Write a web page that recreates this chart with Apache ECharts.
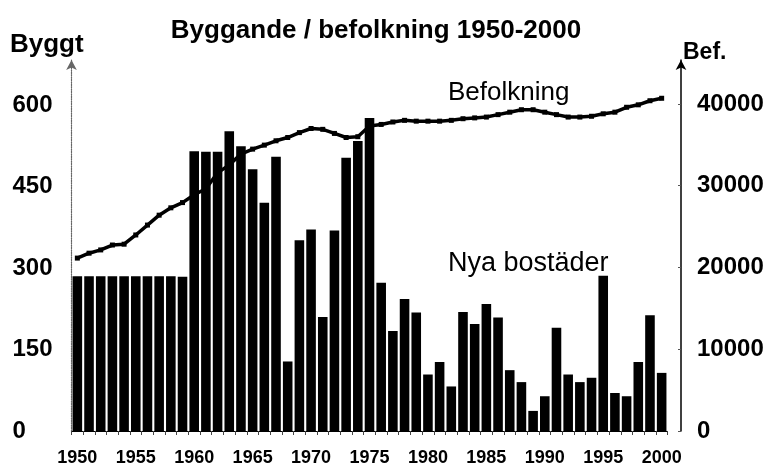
<!DOCTYPE html>
<html>
<head>
<meta charset="utf-8">
<script src="https://cdn.jsdelivr.net/npm/echarts@6/dist/echarts.min.js"></script>
<style>html,body{margin:0;padding:0;background:#fff}#c{width:771px;height:472px}</style>
</head>
<body>
<div id="c"></div>
<script>
var years = ['1950','1951','1952','1953','1954','1955','1956','1957','1958','1959',
             '1960','1961','1962','1963','1964','1965','1966','1967','1968','1969',
             '1970','1971','1972','1973','1974','1975','1976','1977','1978','1979',
             '1980','1981','1982','1983','1984','1985','1986','1987','1988','1989',
             '1990','1991','1992','1993','1994','1995','1996','1997','1998','1999','2000'];
var built = [285,285,285,285,285,285,285,285,285,284,
             515,514,514,552,524,482,420,505,128,351,
             371,210,369,503,534,576,273,184,243,218,
             104,127,82,219,197,234,209,112,90,37,
             64,190,104,90,98,286,70,64,127,213,107];
var population = [21150,21750,22150,22750,22850,23980,25190,26400,27300,27940,
                  28900,29640,31580,32550,33880,34480,34970,35500,35900,36500,
                  37000,36900,36400,35900,36000,37300,37500,37800,38000,37900,
                  37900,37900,38000,38200,38300,38400,38700,39000,39300,39300,
                  39000,38700,38400,38400,38500,38800,39000,39600,39900,40400,40700];
var titleText = 'Byggande / befolkning 1950-2000';
var leftName = 'Byggt';
var rightName = 'Bef.';
var lineLabel = 'Befolkning';
var barLabel = 'Nya bostäder';

var FONT = '"Liberation Sans", Arial, sans-serif';
var chart = echarts.init(document.getElementById('c'), null, {renderer: 'canvas'});
chart.setOption({
  backgroundColor: '#fff',
  animation: false,
  title: {
    text: titleText, left: 371, top: 13, textAlign: 'center',
    textStyle: {fontFamily: FONT, fontWeight: 'bold', fontSize: 26, color: '#000'}
  },
  grid: {left: 71.5, right: 103.5, top: 60, bottom: 41},
  xAxis: {
    type: 'category', data: years, boundaryGap: true,
    axisLine: {show: true, lineStyle: {color: '#000', width: 1.2}},
    axisTick: {show: true, interval: 0, length: 4, lineStyle: {color: '#444'}},
    axisLabel: {interval: 4, margin: 18, fontFamily: FONT, fontWeight: 'bold', fontSize: 18, color: '#000'}
  },
  yAxis: [{
    type: 'value', min: 0, max: 683, interval: 150, position: 'left',
    splitLine: {show: false},
    axisLine: {show: true, symbol: ['none', 'arrow'], symbolSize: [8, 10], lineStyle: {color: '#666', type: 'dotted', width: 1.2}},
    axisTick: {show: false},
    axisLabel: {showMaxLabel: false, align: 'left', margin: 59, fontFamily: FONT, fontWeight: 'bold', fontSize: 24, color: '#000',
      formatter: function (v) { return String(v); }}
  }, {
    type: 'value', min: 0, max: 45382, interval: 10000, position: 'right', offset: 13.5,
    splitLine: {show: false},
    axisLine: {show: true, symbol: ['none', 'arrow'], symbolSize: [8, 10], lineStyle: {color: '#000', width: 1.5}},
    axisTick: {show: true, inside: true, length: 3, lineStyle: {color: '#555'}},
    axisLabel: {showMaxLabel: false, margin: 16, fontFamily: FONT, fontWeight: 'bold', fontSize: 24, color: '#000',
      formatter: function (v) { return String(v); }}
  }],
  series: [{
    type: 'bar', data: built, yAxisIndex: 0, barCategoryGap: '18%',
    itemStyle: {color: '#000'}
  }, {
    type: 'line', data: population, yAxisIndex: 1, z: 5,
    symbol: 'rect', symbolSize: 5, showSymbol: true,
    lineStyle: {color: '#000', width: 3.5},
    itemStyle: {color: '#000'}
  }],
  graphic: [
    {type: 'text', left: 10, top: 32, style: {text: leftName, font: 'bold 26px ' + FONT, fill: '#000'}},
    {type: 'text', left: 683, top: 41, style: {text: rightName, font: 'bold 23px ' + FONT, fill: '#000'}},
    {type: 'text', left: 448, top: 80, style: {text: lineLabel, font: '26px ' + FONT, fill: '#000'}},
    {type: 'text', left: 448, top: 250, style: {text: barLabel, font: '27px ' + FONT, fill: '#000'}}
  ]
});
</script>
</body>
</html>
